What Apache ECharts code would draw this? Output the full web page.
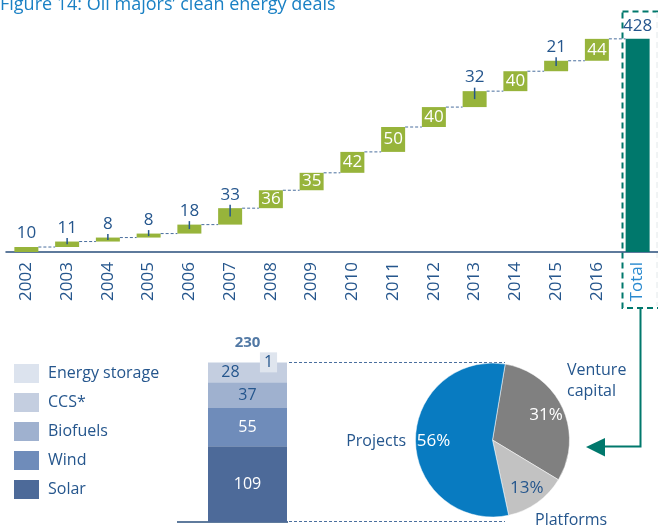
<!DOCTYPE html>
<html>
<head>
<meta charset="utf-8">
<title>Oil majors' clean energy deals</title>
<script src="https://cdn.jsdelivr.net/npm/echarts@6/dist/echarts.min.js"></script>
<style>
  html, body { margin: 0; padding: 0; background: #fff; }
  #chart { width: 658px; height: 530px; }
</style>
</head>
<body>
<div id="chart"></div>
<script>
// deals per year (waterfall)
var years = ['2002', '2003', '2004', '2005', '2006', '2007', '2008', '2009', '2010', '2011', '2012', '2013', '2014', '2015', '2016'];
var yearDeals = [10, 11, 8, 8, 18, 33, 36, 35, 42, 50, 40, 32, 40, 21, 44];
var totalName = 'Total';

// deals by technology (stacked bar)
var techNames = ['Solar', 'Wind', 'Biofuels', 'CCS*', 'Energy storage'];
var techDeals = [109, 55, 37, 28, 1];

// deals by type (pie, %)
var typeNames = ['Venture capital', 'Platforms', 'Projects'];
var typeShares = [31, 13, 56];

var green = '#97b43b';
var teal = '#00786c';
var darkBlue = '#25568d';
var lineBlue = '#4a6f9e';
var font = 'Open Sans';

var categories = years.concat([totalName]);
var cum = [];
var run = 0;
yearDeals.forEach(function (v) { run += v; cum.push(run); });
var totalDeals = run;
var techTotal = techDeals.reduce(function (a, b) { return a + b; }, 0);

var baseData = yearDeals.map(function (v, i) { return cum[i] - v; }).concat([0]);
var dealData = yearDeals.map(function (v) {
  var inside = v >= 35;
  return {
    value: v,
    label: inside
      ? { position: 'inside', color: '#fff' }
      : { position: 'top', distance: 5, color: darkBlue }
  };
});
dealData.push({
  value: totalDeals,
  itemStyle: { color: teal },
  label: { position: 'top', distance: 4, color: darkBlue }
});

var linkData = yearDeals.map(function (v, i) {
  return [i, cum[i], v, (v < 35 && i > 0) ? 1 : 0];
});

// dashed connectors between steps + small ticks under the outside labels
function renderLinks(params, api) {
  var i = api.value(0);
  var level = api.value(1);
  var top = api.coord([i, level]);
  var bottom = api.coord([i, level - api.value(2)]);
  var half = 12;
  var children = [];
  if (i < categories.length - 1) {
    var next = api.coord([i + 1, level]);
    children.push({
      type: 'line',
      shape: { x1: top[0] + half, y1: top[1], x2: next[0] - half, y2: top[1] },
      style: { stroke: lineBlue, lineWidth: 1, lineDash: [3, 2] }
    });
  }
  if (api.value(3)) {
    children.push({
      type: 'line',
      shape: { x1: top[0], y1: top[1] - 3.5, x2: top[0], y2: top[1] + Math.max((bottom[1] - top[1]) / 2, 2.5) },
      style: { stroke: darkBlue, lineWidth: 1.5 }
    });
  }
  return { type: 'group', children: children };
}

var techColors = ['#4d6a99', '#6f8cba', '#9fb1cf', '#c4cee0', '#dce3ee'];
var techLabels = [
  { show: true, position: 'inside', color: '#fff' },
  { show: true, position: 'inside', color: '#fff' },
  { show: true, position: 'inside', color: darkBlue },
  { show: true, position: 'inside', color: darkBlue, offset: [-17, 0] },
  { show: true, position: 'inside', color: darkBlue, offset: [21, 0], backgroundColor: '#dfe5ee', padding: [2, 4] }
];
var techSeries = techNames.map(function (name, i) {
  return {
    name: name,
    type: 'bar',
    stack: 'tech',
    xAxisIndex: 1,
    yAxisIndex: 1,
    barWidth: 79,
    itemStyle: { color: techColors[i] },
    label: Object.assign({ fontSize: 16, fontFamily: font }, techLabels[i]),
    z: i === 4 ? 4 : 2,
    data: [techDeals[i]]
  };
});

var typeColors = ['#808080', '#c2c2c2', '#087bc1'];
var shareColors = ['#fff', darkBlue, '#fff'];
var nameSpots = [
  { x: 567, y: 381, align: 'left' },
  { x: 535, y: 520, align: 'left' },
  { x: 406, y: 441, align: 'right' }
];

var chart = echarts.init(document.getElementById('chart'));

var option = {
  animation: false,
  textStyle: { fontFamily: font },
  grid: [
    { left: 6, top: 3, width: 654, height: 249 },
    { left: 208, top: 362, width: 79, bottom: 8 }
  ],
  xAxis: [
    {
      type: 'category',
      gridIndex: 0,
      data: categories,
      axisLine: { lineStyle: { color: '#2a4f7c', width: 1.5 } },
      axisTick: { show: false },
      axisLabel: {
        rotate: 90,
        margin: 10,
        fontSize: 17,
        fontFamily: font,
        color: function (value) { return value === totalName ? '#2a8ad0' : darkBlue; }
      }
    },
    {
      type: 'category',
      gridIndex: 1,
      data: [''],
      show: false
    }
  ],
  yAxis: [
    { type: 'value', gridIndex: 0, min: 0, max: 500, show: false },
    { type: 'value', gridIndex: 1, min: 0, max: techTotal, show: false }
  ],
  legend: {
    orient: 'vertical',
    left: 9,
    top: 359,
    itemWidth: 25,
    itemHeight: 19,
    itemGap: 10,
    icon: 'rect',
    selectedMode: false,
    data: techNames.slice().reverse(),
    textStyle: { color: darkBlue, fontSize: 16, fontFamily: font, padding: [0, 0, 0, 4] }
  },
  series: [
    {
      name: 'base',
      type: 'bar',
      stack: 'w',
      barWidth: 24,
      itemStyle: { color: 'transparent' },
      silent: true,
      data: baseData
    },
    {
      name: 'deals',
      type: 'bar',
      stack: 'w',
      barWidth: 24,
      itemStyle: { color: green },
      label: { show: true, fontSize: 17, fontFamily: font },
      data: dealData
    },
    {
      name: 'links',
      type: 'custom',
      renderItem: renderLinks,
      silent: true,
      z: 3,
      data: linkData
    }
  ].concat(techSeries).concat([
    {
      name: 'techTotal',
      type: 'scatter',
      xAxisIndex: 1,
      yAxisIndex: 1,
      symbolSize: 0,
      silent: true,
      label: {
        show: true,
        position: 'top',
        distance: 12,
        formatter: String(techTotal),
        fontSize: 15,
        fontWeight: 'bold',
        color: darkBlue
      },
      data: [[0, techTotal]]
    },
    {
      name: 'types',
      type: 'pie',
      center: [492.5, 440],
      radius: [0, 77],
      startAngle: 80.5,
      clockwise: true,
      silent: true,
      avoidLabelOverlap: false,
      itemStyle: { borderColor: '#fff', borderWidth: 0.5 },
      label: {
        show: true,
        position: 'outside',
        overflow: 'none',
        fontSize: 16,
        lineHeight: 21,
        color: darkBlue,
        formatter: function (p) { return p.name === 'Venture capital' ? 'Venture\ncapital' : p.name; }
      },
      labelLine: { show: false },
      labelLayout: function (p) {
        var s = nameSpots[p.dataIndex];
        return { x: s.x, y: s.y, align: s.align, verticalAlign: 'middle' };
      },
      data: typeNames.map(function (n, i) {
        return { name: n, value: typeShares[i], itemStyle: { color: typeColors[i] } };
      })
    },
    {
      name: 'typeShares',
      type: 'pie',
      center: [492.5, 440],
      radius: [35, 77],
      startAngle: 80.5,
      clockwise: true,
      silent: true,
      itemStyle: { color: 'transparent' },
      label: { show: true, position: 'inside', fontSize: 17, formatter: '{c}%' },
      labelLine: { show: false },
      data: typeNames.map(function (n, i) {
        return { name: n, value: typeShares[i], label: { color: shareColors[i] } };
      })
    }
  ]),
  graphic: [
    {
      type: 'text',
      left: 0,
      top: -4,
      style: { text: 'Figure 14: Oil majors’ clean energy deals', fill: '#1a80c4', font: '18px "Open Sans"' }
    },
    {
      type: 'rect',
      shape: { x: 622.5, y: 11.5, width: 37, height: 296.5 },
      style: { fill: null, stroke: teal, lineWidth: 2, lineDash: [6, 4] }
    },
    {
      type: 'line',
      shape: { x1: 657, y1: 12, x2: 657, y2: 306 },
      style: { stroke: '#e2e8ea', lineWidth: 1, lineDash: [6, 4] }
    },
    {
      type: 'polyline',
      shape: { points: [[640.5, 308], [640.5, 446.5], [603, 446.5]] },
      style: { fill: null, stroke: teal, lineWidth: 2 }
    },
    {
      type: 'polygon',
      shape: { points: [[586, 447], [605, 438], [605, 456.5]] },
      style: { fill: teal }
    },
    {
      type: 'line',
      shape: { x1: 177, y1: 522, x2: 288, y2: 522 },
      style: { stroke: '#2a4f7c', lineWidth: 1.5 }
    },
    {
      type: 'line',
      shape: { x1: 289, y1: 362.5, x2: 505, y2: 362.5 },
      style: { stroke: lineBlue, lineWidth: 1, lineDash: [3, 2] }
    },
    {
      type: 'line',
      shape: { x1: 289, y1: 521.5, x2: 505, y2: 521.5 },
      style: { stroke: lineBlue, lineWidth: 1, lineDash: [3, 2] }
    }
  ]
};

chart.setOption(option);
</script>
</body>
</html>
